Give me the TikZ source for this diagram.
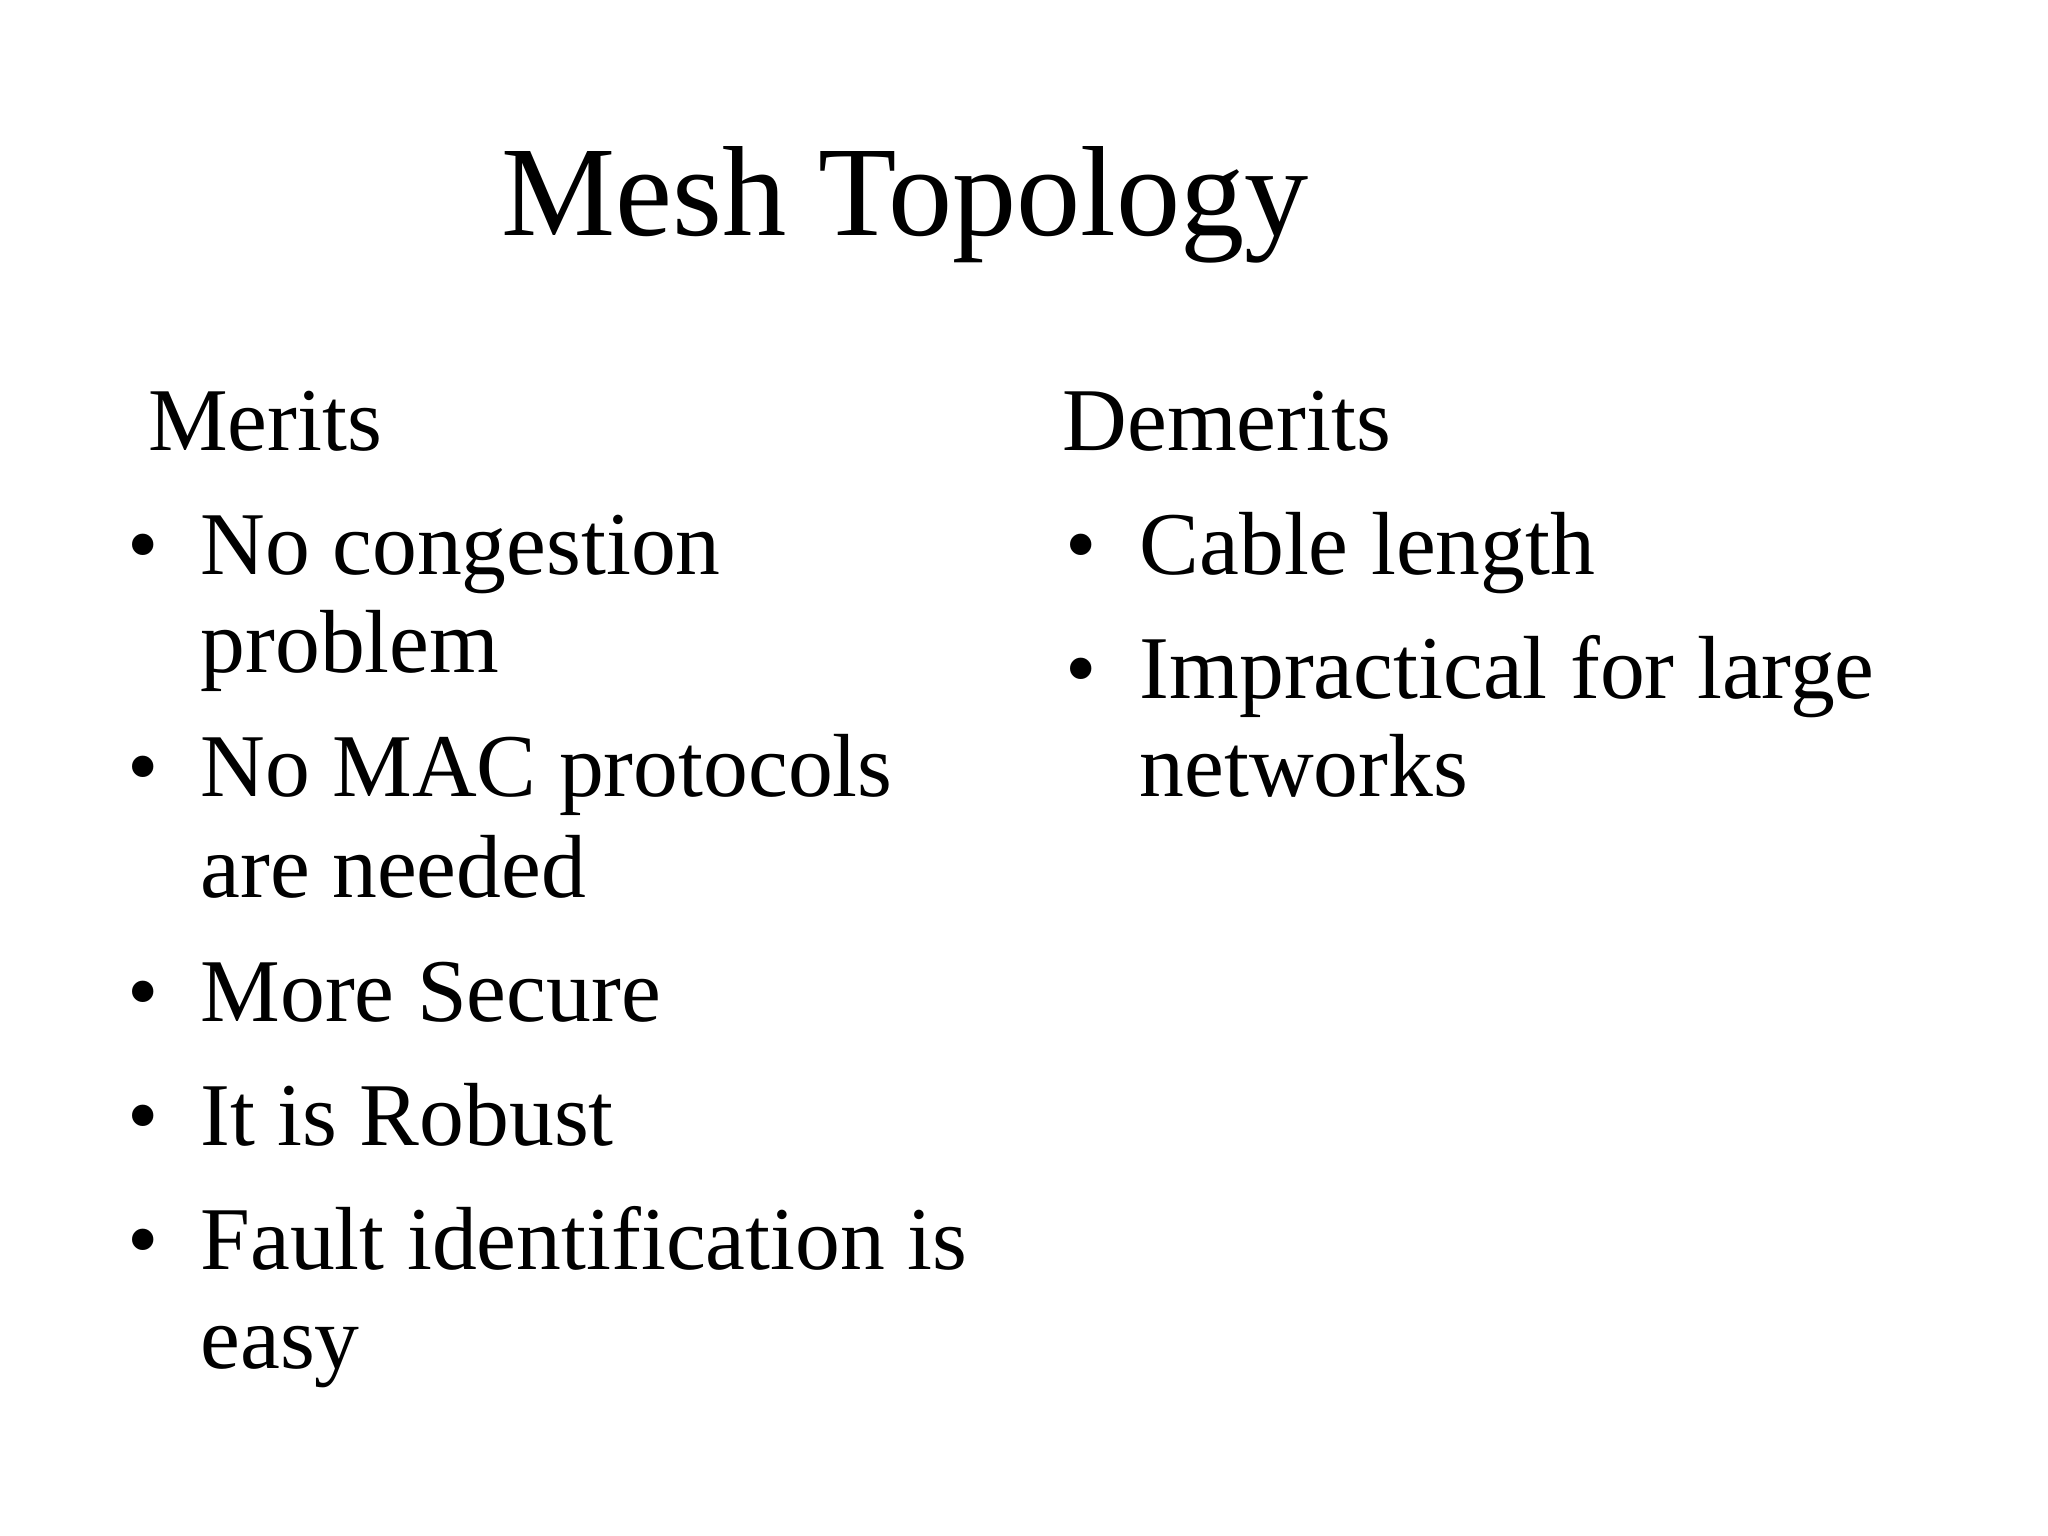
\documentclass[tikz,border=0pt]{standalone}
\usepackage{fontspec}
\setmainfont{Liberation Serif}
\begin{document}
\begin{tikzpicture}[x=0.01306cm,y=-0.01306cm,
  txt/.style={anchor=base west,inner sep=0pt,font=\fontsize{25.5pt}{30pt}\selectfont},
  ttl/.style={anchor=base,inner sep=0pt,font=\fontsize{36.5pt}{40pt}\selectfont}]
\useasboundingbox[fill=white] (0,0) rectangle (1568,1176);
\node[ttl] (title) at (693,180) {Mesh Topology};
\node[txt] (merits) at (113,345) {Merits};
\node[txt] (demerits) at (813,345) {Demerits};
\foreach \n/\y in {b1/440,b2/610,b3/782,b4/877,b5/972}{\node[txt] (\n) at (97,\y) {\textbullet};}
\foreach \n/\y in {c1/440,c2/535}{\node[txt] (\n) at (815,\y) {\textbullet};}
\node[txt] (m1) at (153,440) {No congestion};
\node[txt] (m1b) at (153,515) {problem};
\node[txt] (m2) at (153,610) {No MAC protocols};
\node[txt] (m2b) at (153,687) {are needed};
\node[txt] (m3) at (153,782) {More Secure};
\node[txt] (m4) at (153,877) {It is Robust};
\node[txt] (m5) at (153,972) {Fault identification is};
\node[txt] (m5b) at (153,1048) {easy};
\node[txt] (d1) at (872,440) {Cable length};
\node[txt] (d2) at (872,535) {Impractical for large};
\node[txt] (d2b) at (872,610) {networks};
\end{tikzpicture}
\end{document}
